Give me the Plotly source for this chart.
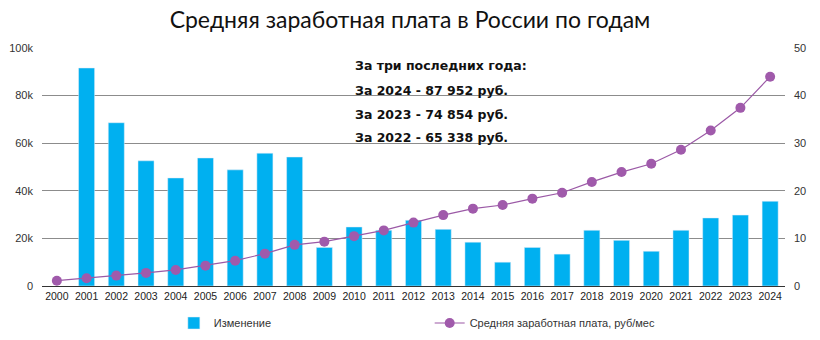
import plotly.graph_objects as go

years = [str(y) for y in range(2000, 2025)]
change_pct = [None, 45.8, 34.3, 26.3, 22.7, 26.9, 24.4, 27.9, 27.1, 8.1, 12.4, 11.7,
              13.8, 11.9, 9.2, 5.0, 8.1, 6.7, 11.7, 9.6, 7.3, 11.7, 14.3, 14.9, 17.8]
salary = [2223, 3240, 4360, 5499, 6740, 8555, 10634, 13593, 17290, 18638, 20952, 23369,
          26629, 29792, 32495, 34030, 36709, 39167, 43724, 47867, 51344, 57244,
          65338, 74854, 87952]
notes = ["За три последних года:", "За 2024 - 87 952 руб.",
         "За 2023 - 74 854 руб.", "За 2022 - 65 338 руб."]
left_ticks = [0, 20000, 40000, 60000, 80000, 100000]
left_labels = ["0", "20k", "40k", "60k", "80k", "100k"]
right_ticks = [0, 10, 20, 30, 40, 50]

fig = go.Figure()
fig.add_trace(go.Bar(x=years, y=change_pct, name="Изменение", marker_color="#00b0f0",
                     width=0.54, yaxis="y", legend="legend", showlegend=True))
fig.add_trace(go.Scatter(x=years, y=salary, name="Средняя заработная плата, руб/мес",
                         mode="lines+markers", line=dict(color="#9b59a6", width=1.2),
                         marker=dict(color="#a05aab", size=10), yaxis="y2",
                         legend="legend2", showlegend=True))

ann = []
ys = [0.925, 0.822, 0.722, 0.622]
for t, yy in zip(notes, ys):
    ann.append(dict(text="<b>" + t + "</b>", x=0.418, y=yy, xref="paper", yref="paper",
                    xanchor="left", yanchor="middle", showarrow=False,
                    font=dict(family="DejaVu Sans, Arial", size=12.5, color="#111")))

fig.update_layout(
    width=820, height=340,
    margin=dict(l=42, r=35, t=48, b=54, autoexpand=False),
    paper_bgcolor="white", plot_bgcolor="white",
    showlegend=True,
    title=dict(text="Средняя заработная плата в России по годам", x=0.5, xanchor="center",
               y=0.94, yanchor="middle",
               font=dict(family="Lato, Open Sans, sans-serif", size=23, color="#111")),
    font=dict(family="Liberation Sans, Arial", size=11, color="#333"),
    xaxis=dict(type="category", range=[-0.5, 24.5], showgrid=False, showline=True,
               linecolor="#333", linewidth=1, ticks="", tickangle=0,
               tickfont=dict(size=10.5, color="#222")),
    yaxis=dict(range=[0, 50], tickvals=right_ticks, side="right",
               showgrid=True, gridcolor="#8c8c8c", gridwidth=1, zeroline=False,
               tickfont=dict(size=11, color="#333"), ticklabelstandoff=8),
    yaxis2=dict(range=[0, 100000], tickvals=left_ticks, ticktext=left_labels,
                overlaying="y", side="left", showgrid=False, zeroline=False,
                tickfont=dict(size=11, color="#333"), ticklabelstandoff=8),
    legend=dict(x=0.212, y=0.05, xref="container", yref="container", xanchor="left",
                yanchor="middle", orientation="h", font=dict(size=11, color="#333"),
                bgcolor="rgba(0,0,0,0)", visible=True),
    legend2=dict(x=0.524, y=0.05, xref="container", yref="container", xanchor="left",
                 yanchor="middle", orientation="h", font=dict(size=11, color="#333"),
                 bgcolor="rgba(0,0,0,0)", visible=True),
    annotations=ann,
)
fig.write_html("out.html")
